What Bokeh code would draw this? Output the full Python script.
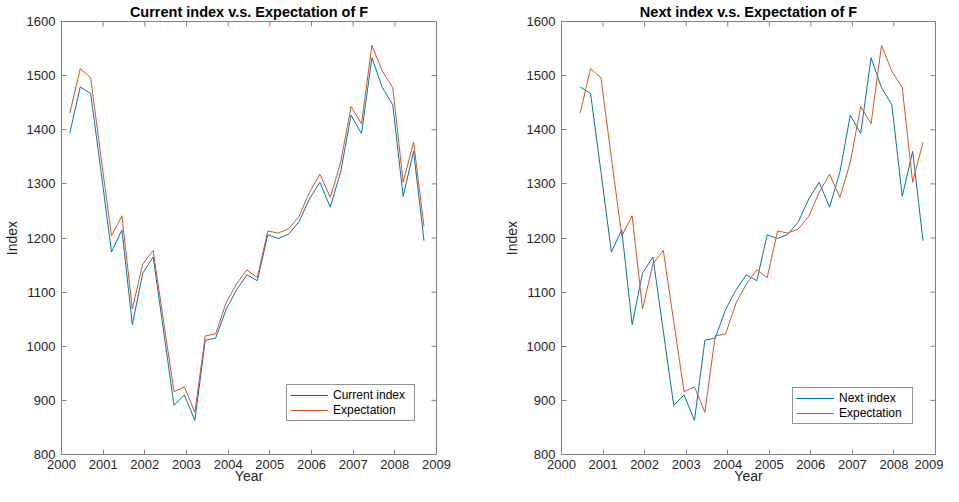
import math
from bokeh.plotting import figure
from bokeh.layouts import row
from bokeh.models import (Range1d, LinearAxis, Legend, LegendItem,
                          FixedTicker, ColumnDataSource)
from bokeh.embed import file_html
from bokeh.resources import INLINE

# ---- data ----
years = [2000.2, 2000.45, 2000.7, 2000.95, 2001.2, 2001.45, 2001.7, 2001.95,
         2002.2, 2002.45, 2002.7, 2002.95, 2003.2, 2003.45, 2003.7, 2003.95,
         2004.2, 2004.45, 2004.7, 2004.95, 2005.2, 2005.45, 2005.7, 2005.95,
         2006.2, 2006.45, 2006.7, 2006.95, 2007.2, 2007.45, 2007.7, 2007.95,
         2008.2, 2008.45, 2008.7]
current_index = [1394, 1479, 1467, 1322, 1174, 1215, 1040, 1135,
                 1165, 1028, 891, 910, 863, 1011, 1015, 1068,
                 1104, 1132, 1121, 1206, 1199, 1207, 1230, 1272,
                 1303, 1257, 1322, 1427, 1393, 1533, 1478, 1446,
                 1277, 1360, 1195]
expectation = [1431, 1513, 1496, 1348, 1204, 1241, 1069, 1152,
               1177, 1046, 916, 925, 878, 1019, 1023, 1080,
               1115, 1141, 1127, 1213, 1209, 1217, 1240, 1284,
               1318, 1275, 1340, 1443, 1411, 1556, 1508, 1478,
               1303, 1377, 1221]
x_ticks = [2000, 2001, 2002, 2003, 2004, 2005, 2006, 2007, 2008, 2009]
y_ticks = [800, 900, 1000, 1100, 1200, 1300, 1400, 1500, 1600]
x_min, x_max = 2000, 2009
y_min, y_max = 800, 1600

# next-period view: index one step ahead vs expectation made one step before
next_x = years[1:]
next_index = current_index[1:]
prev_expectation = expectation[:-1]

BLUE = "#0072BD"
ORANGE = "#D95319"
AXIS = "#808080"
TEXT = "#262626"
FONT = "Liberation Sans"


def make_fig(title, width, border_right, xs, blue, orange, blue_label,
             legend_loc, label_w):
    p = figure(width=width, height=486,
               x_range=Range1d(x_min, x_max), y_range=Range1d(y_min, y_max),
               output_backend="svg", toolbar_location=None,
               x_axis_type=None, y_axis_type=None,
               min_border_left=56, min_border_right=border_right,
               min_border_top=21, min_border_bottom=0)
    p.background_fill_color = "white"
    p.border_fill_color = "white"
    p.outline_line_color = AXIS
    p.outline_line_width = 1
    p.xgrid.visible = False
    p.ygrid.visible = False

    p.title.text = title
    p.title.align = "center"
    p.title.text_font = FONT
    p.title.text_font_style = "bold"
    p.title.text_font_size = "14.5px"
    p.title.text_color = "black"
    p.title.standoff = 3

    def style(ax):
        ax.axis_line_color = AXIS
        ax.major_tick_line_color = AXIS
        ax.major_tick_in = 5
        ax.major_tick_out = 0
        ax.minor_tick_line_color = None
        ax.major_label_text_font = FONT
        ax.major_label_text_font_size = "13px"
        ax.major_label_text_color = TEXT
        ax.axis_label_text_font = FONT
        ax.axis_label_text_font_size = "14px"
        ax.axis_label_text_font_style = "normal"
        ax.axis_label_text_color = TEXT

    xb = LinearAxis(ticker=FixedTicker(ticks=x_ticks), axis_label="Year")
    style(xb)
    xb.major_label_standoff = 5
    xb.axis_label_standoff = -4
    p.add_layout(xb, "below")

    yl = LinearAxis(ticker=FixedTicker(ticks=y_ticks), axis_label="Index")
    style(yl)
    yl.major_label_standoff = 6
    yl.axis_label_standoff = 4
    p.add_layout(yl, "left")

    # inward ticks on the top and right edges of the box
    p.ray(x=x_ticks, y=[y_max] * len(x_ticks), length=5, length_units="screen",
          angle=-math.pi / 2, line_color=AXIS, line_width=1)
    p.ray(x=[x_max] * len(y_ticks), y=y_ticks, length=5, length_units="screen",
          angle=math.pi, line_color=AXIS, line_width=1)

    src_b = ColumnDataSource(dict(x=xs, y=blue))
    src_o = ColumnDataSource(dict(x=xs, y=orange))
    r1 = p.line("x", "y", source=src_b, line_color=BLUE, line_width=1)
    r2 = p.line("x", "y", source=src_o, line_color=ORANGE, line_width=1)

    leg = Legend(items=[LegendItem(label=blue_label, renderers=[r1]),
                        LegendItem(label="Expectation", renderers=[r2])],
                 location=legend_loc)
    leg.border_line_color = TEXT
    leg.border_line_width = 1
    leg.background_fill_color = "white"
    leg.background_fill_alpha = 1
    leg.label_text_font = FONT
    leg.label_text_font_size = "12px"
    leg.label_text_color = "black"
    leg.glyph_width = 38
    leg.glyph_height = 14
    leg.label_height = 14
    leg.label_width = label_w
    leg.label_standoff = 5
    leg.padding = 3
    leg.spacing = 1
    leg.margin = 0
    p.add_layout(leg, "center")
    return p


p1 = make_fig("Current index v.s. Expectation of F", 500, 64,
              years, current_index, expectation, "Current index", (225, 33), 78)
p2 = make_fig("Next index v.s. Expectation of F", 443, 8,
              next_x, next_index, prev_expectation, "Next index", (231, 30), 70)

layout = row(p1, p2)
open("out.html", "w").write(file_html(layout, INLINE))
